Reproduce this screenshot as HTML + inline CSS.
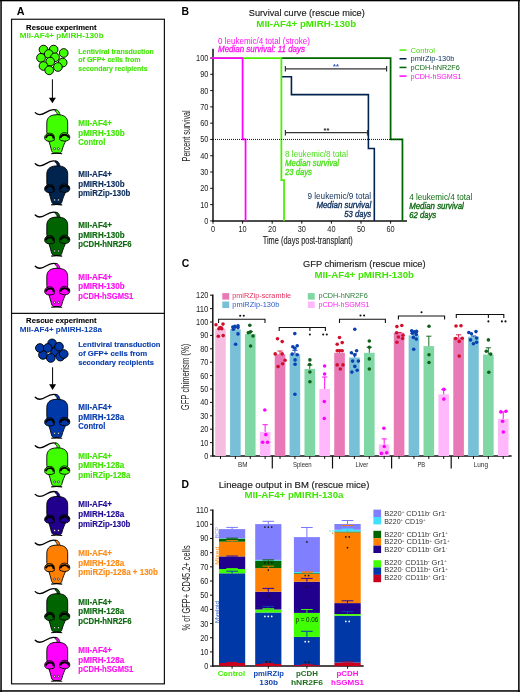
<!DOCTYPE html>
<html><head><meta charset="utf-8"><style>
html,body{margin:0;padding:0;background:#fff;width:520px;height:692px;overflow:hidden}
svg{display:block;font-family:"Liberation Sans", sans-serif;will-change:transform}
</style></head><body>
<svg width="520" height="692" viewBox="0 0 520 692">
<defs>
<g id="mouse">
 <path d="M3.2 7.6 C6 10.4 10 10 14 7.4 C18 4.8 22.5 4.2 25 5.6" fill="none" stroke="#000" stroke-width="1.3" stroke-linecap="round"/>
 <path d="M23.6 4.6 C26.4 5 27.8 7.2 28 10.2 L25.2 10.2 C25.2 8.2 24.6 6.6 23.2 6.2 Z" stroke="#000" stroke-width="0.7"/>
 <path d="M25.3 9.7 C31.5 9.7 35.7 11.8 35.7 18 L35.7 27 L34 35 C32.4 38.5 30.8 42 30 45.3 C29.6 47 28.8 47.9 27.8 48 L22 48 C21 47.9 20 47 19.5 45.3 C18.8 42 17.6 38.5 16.5 35 L14.8 27 L14.8 18 C14.8 11.8 19 9.7 25.3 9.7 Z" stroke="#000" stroke-width="0.9"/>
 <path d="M22.3 35.2 C22.4 33 22.2 30.6 21.2 29.4 C19.5 27.7 15 27.6 13.2 30.6 C12.3 32.2 12.6 34.2 13.6 35 C15 36.6 19 37 22.3 35.2 Z" stroke="#000" stroke-width="0.9"/>
 <path d="M27.6 34.6 C27.4 32.5 27.8 30 29.2 28.8 C31.5 27 35.6 27.4 37.3 30.4 C38.3 32.2 37.6 34.4 36.4 35.2 C34.6 36.4 30.5 36.6 27.6 34.6 Z" stroke="#000" stroke-width="0.9"/>
 <path d="M13.8 32.9 C14.5 30.6 17.3 29.6 19.6 30.1 C20.8 30.5 21.5 31.6 21.6 33.6" fill="none" stroke="#000" stroke-width="1.9"/>
 <path d="M28.3 33 C28.7 31 30.8 29.6 33 29.7 C35 29.9 36.4 31 36.9 32.8" fill="none" stroke="#000" stroke-width="1.9"/>
 <circle cx="22.6" cy="43.7" r="1.0" fill="#fff" stroke="#000" stroke-width="0.6"/>
 <circle cx="26.4" cy="43.7" r="1.0" fill="#fff" stroke="#000" stroke-width="0.6"/>
 <path d="M19.2 48.7 C22 48.2 27 48.2 30.2 48.7" fill="none" stroke="#000" stroke-width="1.1"/>
</g></defs>
<rect x="0" y="0" width="520" height="692" fill="#fff"/>

<rect x="0.3" y="0" width="1.5" height="692" fill="#000"/><rect x="0" y="0" width="520" height="1.3" fill="#000"/><rect x="518.1" y="0" width="1.5" height="692" fill="#000"/><rect x="0" y="690.2" width="520" height="1.5" fill="#000"/>
<text x="16.8" y="14.5" font-size="10.8" fill="#000" font-weight="bold">A</text>
<rect x="11.55" y="19.25" width="152.85" height="664.6" fill="none" stroke="#111" stroke-width="1.2"/>
<line x1="11.5" y1="313.4" x2="164.4" y2="313.4" stroke="#111" stroke-width="1.2"/>
<text x="26.1" y="29.6" font-size="7.9" fill="#000" font-weight="bold" textLength="70.5" lengthAdjust="spacingAndGlyphs" stroke="#000" stroke-width="0.12">Rescue experiment</text>
<text x="19.7" y="38.3" font-size="8.1" fill="#3fe600" font-weight="bold" textLength="84" lengthAdjust="spacingAndGlyphs">MII-AF4+ pMIRH-130b</text>
<circle cx="43.5" cy="49.6" r="4.35" fill="#40ff00" stroke="#000" stroke-width="0.95"/>
<circle cx="53.6" cy="49.6" r="4.35" fill="#40ff00" stroke="#000" stroke-width="0.95"/>
<circle cx="48.75" cy="54" r="4.35" fill="#40ff00" stroke="#000" stroke-width="0.95"/>
<circle cx="41" cy="57.8" r="4.35" fill="#40ff00" stroke="#000" stroke-width="0.95"/>
<circle cx="63.7" cy="53" r="4.35" fill="#40ff00" stroke="#000" stroke-width="0.95"/>
<circle cx="55" cy="57.3" r="4.35" fill="#40ff00" stroke="#000" stroke-width="0.95"/>
<circle cx="62.7" cy="62.6" r="4.35" fill="#40ff00" stroke="#000" stroke-width="0.95"/>
<circle cx="50.2" cy="61.6" r="4.35" fill="#40ff00" stroke="#000" stroke-width="0.95"/>
<circle cx="43.5" cy="66" r="4.35" fill="#40ff00" stroke="#000" stroke-width="0.95"/>
<circle cx="57.9" cy="67" r="4.35" fill="#40ff00" stroke="#000" stroke-width="0.95"/>
<circle cx="49.2" cy="70.3" r="4.35" fill="#40ff00" stroke="#000" stroke-width="0.95"/>
<text x="78.3" y="54.0" font-size="7.2" fill="#3fe600" font-weight="bold" textLength="75.6" lengthAdjust="spacingAndGlyphs" stroke="#3fe600" stroke-width="0.12">Lentiviral transduction</text>
<text x="78.3" y="62.4" font-size="7.2" fill="#3fe600" font-weight="bold" textLength="62.3" lengthAdjust="spacingAndGlyphs" stroke="#3fe600" stroke-width="0.12">of GFP+ cells from</text>
<text x="78.3" y="70.8" font-size="7.2" fill="#3fe600" font-weight="bold" textLength="69.2" lengthAdjust="spacingAndGlyphs" stroke="#3fe600" stroke-width="0.12">secondary recipients</text>
<line x1="52.4" y1="79.3" x2="52.4" y2="99.3" stroke="#000" stroke-width="1"/>
<path d="M48.9 97.7 L55.9 97.7 L52.4 103.3 Z" fill="#000"/>
<use href="#mouse" x="32" y="105.0" fill="#40ff00"/>
<text x="78.3" y="126.0" font-size="8.2" fill="#3fe600" font-weight="bold" textLength="33.7" lengthAdjust="spacingAndGlyphs" stroke="#3fe600" stroke-width="0.15">MII-AF4+</text>
<text x="78.3" y="135.5" font-size="8.2" fill="#3fe600" font-weight="bold" textLength="46.3" lengthAdjust="spacingAndGlyphs" stroke="#3fe600" stroke-width="0.15">pMIRH-130b</text>
<text x="78.3" y="145.0" font-size="8.2" fill="#3fe600" font-weight="bold" textLength="27" lengthAdjust="spacingAndGlyphs" stroke="#3fe600" stroke-width="0.15">Control</text>
<use href="#mouse" x="32" y="156.2" fill="#00244d"/>
<text x="78.3" y="177.2" font-size="8.2" fill="#0c2e5c" font-weight="bold" textLength="33.7" lengthAdjust="spacingAndGlyphs" stroke="#0c2e5c" stroke-width="0.15">MII-AF4+</text>
<text x="78.3" y="186.7" font-size="8.2" fill="#0c2e5c" font-weight="bold" textLength="46.3" lengthAdjust="spacingAndGlyphs" stroke="#0c2e5c" stroke-width="0.15">pMIRH-130b</text>
<text x="78.3" y="196.2" font-size="8.2" fill="#0c2e5c" font-weight="bold" textLength="52.1" lengthAdjust="spacingAndGlyphs" stroke="#0c2e5c" stroke-width="0.15">pmiRZip-130b</text>
<use href="#mouse" x="32" y="207.4" fill="#006400"/>
<text x="78.3" y="228.4" font-size="8.2" fill="#0e6a10" font-weight="bold" textLength="33.7" lengthAdjust="spacingAndGlyphs" stroke="#0e6a10" stroke-width="0.15">MII-AF4+</text>
<text x="78.3" y="237.9" font-size="8.2" fill="#0e6a10" font-weight="bold" textLength="46.3" lengthAdjust="spacingAndGlyphs" stroke="#0e6a10" stroke-width="0.15">pMIRH-130b</text>
<text x="78.3" y="247.4" font-size="8.2" fill="#0e6a10" font-weight="bold" textLength="53.3" lengthAdjust="spacingAndGlyphs" stroke="#0e6a10" stroke-width="0.15">pCDH-hNR2F6</text>
<use href="#mouse" x="32" y="258.6" fill="#ff00ff"/>
<text x="78.3" y="279.6" font-size="8.2" fill="#ff10f0" font-weight="bold" textLength="33.7" lengthAdjust="spacingAndGlyphs" stroke="#ff10f0" stroke-width="0.15">MII-AF4+</text>
<text x="78.3" y="289.1" font-size="8.2" fill="#ff10f0" font-weight="bold" textLength="46.3" lengthAdjust="spacingAndGlyphs" stroke="#ff10f0" stroke-width="0.15">pMIRH-130b</text>
<text x="78.3" y="298.6" font-size="8.2" fill="#ff10f0" font-weight="bold" textLength="55" lengthAdjust="spacingAndGlyphs" stroke="#ff10f0" stroke-width="0.15">pCDH-hSGMS1</text>
<text x="26.1" y="322.8" font-size="7.9" fill="#000" font-weight="bold" textLength="70.5" lengthAdjust="spacingAndGlyphs" stroke="#000" stroke-width="0.12">Rescue experiment</text>
<text x="19.8" y="331.7" font-size="8.1" fill="#0c40b0" font-weight="bold" textLength="82.2" lengthAdjust="spacingAndGlyphs">MII-AF4+ pMIRH-128a</text>
<circle cx="52.1" cy="343.4" r="4.35" fill="#0038a8" stroke="#000" stroke-width="0.95"/>
<circle cx="43" cy="354.9" r="4.35" fill="#0038a8" stroke="#000" stroke-width="0.95"/>
<circle cx="55" cy="352" r="4.35" fill="#0038a8" stroke="#000" stroke-width="0.95"/>
<circle cx="60.3" cy="356.6" r="4.35" fill="#0038a8" stroke="#000" stroke-width="0.95"/>
<circle cx="39.9" cy="348" r="4.35" fill="#0038a8" stroke="#000" stroke-width="0.95"/>
<circle cx="47.7" cy="348" r="4.35" fill="#0038a8" stroke="#000" stroke-width="0.95"/>
<circle cx="59" cy="346.7" r="4.35" fill="#0038a8" stroke="#000" stroke-width="0.95"/>
<circle cx="50.8" cy="357.9" r="4.35" fill="#0038a8" stroke="#000" stroke-width="0.95"/>
<circle cx="63.7" cy="354" r="4.35" fill="#0038a8" stroke="#000" stroke-width="0.95"/>
<text x="78.2" y="346.7" font-size="7.8" fill="#0c40b0" font-weight="bold" textLength="82.3" lengthAdjust="spacingAndGlyphs" stroke="#0c40b0" stroke-width="0.12">Lentiviral transduction</text>
<text x="78.2" y="355.7" font-size="7.8" fill="#0c40b0" font-weight="bold" textLength="69.1" lengthAdjust="spacingAndGlyphs" stroke="#0c40b0" stroke-width="0.12">of GFP+ cells from</text>
<text x="78.2" y="364.7" font-size="7.8" fill="#0c40b0" font-weight="bold" textLength="75.7" lengthAdjust="spacingAndGlyphs" stroke="#0c40b0" stroke-width="0.12">secondary recipients</text>
<line x1="52.6" y1="367.3" x2="52.6" y2="385.9" stroke="#000" stroke-width="1"/>
<path d="M49.1 384.29999999999995 L56.1 384.29999999999995 L52.6 389.9 Z" fill="#000"/>
<use href="#mouse" x="32" y="389.6" fill="#0038a8"/>
<text x="78.3" y="410.20000000000005" font-size="8.2" fill="#0c40b0" font-weight="bold" textLength="33.7" lengthAdjust="spacingAndGlyphs" stroke="#0c40b0" stroke-width="0.15">MII-AF4+</text>
<text x="78.3" y="419.80000000000007" font-size="8.2" fill="#0c40b0" font-weight="bold" textLength="45.8" lengthAdjust="spacingAndGlyphs" stroke="#0c40b0" stroke-width="0.15">pMIRH-128a</text>
<text x="78.3" y="429.40000000000003" font-size="8.2" fill="#0c40b0" font-weight="bold" textLength="27" lengthAdjust="spacingAndGlyphs" stroke="#0c40b0" stroke-width="0.15">Control</text>
<use href="#mouse" x="32" y="438.20000000000005" fill="#40ff00"/>
<text x="78.3" y="458.80000000000007" font-size="8.2" fill="#3fe600" font-weight="bold" textLength="33.7" lengthAdjust="spacingAndGlyphs" stroke="#3fe600" stroke-width="0.15">MII-AF4+</text>
<text x="78.3" y="468.4000000000001" font-size="8.2" fill="#3fe600" font-weight="bold" textLength="45.8" lengthAdjust="spacingAndGlyphs" stroke="#3fe600" stroke-width="0.15">pMIRH-128a</text>
<text x="78.3" y="478.00000000000006" font-size="8.2" fill="#3fe600" font-weight="bold" textLength="52.1" lengthAdjust="spacingAndGlyphs" stroke="#3fe600" stroke-width="0.15">pmiRZip-128a</text>
<use href="#mouse" x="32" y="486.8" fill="#20008c"/>
<text x="78.3" y="507.40000000000003" font-size="8.2" fill="#220c96" font-weight="bold" textLength="33.7" lengthAdjust="spacingAndGlyphs" stroke="#220c96" stroke-width="0.15">MII-AF4+</text>
<text x="78.3" y="517.0" font-size="8.2" fill="#220c96" font-weight="bold" textLength="45.8" lengthAdjust="spacingAndGlyphs" stroke="#220c96" stroke-width="0.15">pMIRH-128a</text>
<text x="78.3" y="526.6" font-size="8.2" fill="#220c96" font-weight="bold" textLength="52.1" lengthAdjust="spacingAndGlyphs" stroke="#220c96" stroke-width="0.15">pmiRZip-130b</text>
<use href="#mouse" x="32" y="535.4000000000001" fill="#ff8000"/>
<text x="78.3" y="556.0000000000001" font-size="8.2" fill="#ff8c18" font-weight="bold" textLength="33.7" lengthAdjust="spacingAndGlyphs" stroke="#ff8c18" stroke-width="0.15">MII-AF4+</text>
<text x="78.3" y="565.6000000000001" font-size="8.2" fill="#ff8c18" font-weight="bold" textLength="45.8" lengthAdjust="spacingAndGlyphs" stroke="#ff8c18" stroke-width="0.15">pMIRH-128a</text>
<text x="78.3" y="575.2000000000002" font-size="8.2" fill="#ff8c18" font-weight="bold" textLength="79.6" lengthAdjust="spacingAndGlyphs" stroke="#ff8c18" stroke-width="0.15">pmiRZip-128a + 130b</text>
<use href="#mouse" x="32" y="584.0" fill="#006400"/>
<text x="78.3" y="604.6" font-size="8.2" fill="#0e6a10" font-weight="bold" textLength="33.7" lengthAdjust="spacingAndGlyphs" stroke="#0e6a10" stroke-width="0.15">MII-AF4+</text>
<text x="78.3" y="614.2" font-size="8.2" fill="#0e6a10" font-weight="bold" textLength="45.8" lengthAdjust="spacingAndGlyphs" stroke="#0e6a10" stroke-width="0.15">pMIRH-128a</text>
<text x="78.3" y="623.8000000000001" font-size="8.2" fill="#0e6a10" font-weight="bold" textLength="53.3" lengthAdjust="spacingAndGlyphs" stroke="#0e6a10" stroke-width="0.15">pCDH-hNR2F6</text>
<use href="#mouse" x="32" y="632.6" fill="#ff00ff"/>
<text x="78.3" y="653.2" font-size="8.2" fill="#ff10f0" font-weight="bold" textLength="33.7" lengthAdjust="spacingAndGlyphs" stroke="#ff10f0" stroke-width="0.15">MII-AF4+</text>
<text x="78.3" y="662.8000000000001" font-size="8.2" fill="#ff10f0" font-weight="bold" textLength="45.8" lengthAdjust="spacingAndGlyphs" stroke="#ff10f0" stroke-width="0.15">pMIRH-128a</text>
<text x="78.3" y="672.4000000000001" font-size="8.2" fill="#ff10f0" font-weight="bold" textLength="55" lengthAdjust="spacingAndGlyphs" stroke="#ff10f0" stroke-width="0.15">pCDH-hSGMS1</text>
<text x="181.5" y="14.6" font-size="10.4" fill="#000" font-weight="bold">B</text>
<text x="248.75" y="15.6" font-size="9.8" fill="#1a1a1a" textLength="116" lengthAdjust="spacingAndGlyphs" stroke="#1a1a1a" stroke-width="0.15">Survival curve (rescue mice)</text>
<text x="256.25" y="27.1" font-size="8.8" fill="#3fe600" font-weight="bold" textLength="100" lengthAdjust="spacingAndGlyphs">MII-AF4+ pMIRH-130b</text>
<text x="218" y="44.1" font-size="8.8" fill="#ff10f0" textLength="92" lengthAdjust="spacingAndGlyphs">0 leukemic/4 total (stroke)</text>
<text x="218" y="51.7" font-size="8.6" fill="#ff10f0" font-style="italic" textLength="87" lengthAdjust="spacingAndGlyphs" stroke="#ff10f0" stroke-width="0.3">Median survival: 11 days</text>
<line x1="213" y1="48.7" x2="213" y2="221.5" stroke="#111" stroke-width="1.5"/>
<line x1="212.4" y1="220.9" x2="407.0" y2="220.9" stroke="#111" stroke-width="1.5"/>
<line x1="210.2" y1="220.9" x2="213" y2="220.9" stroke="#111" stroke-width="1"/>
<text x="208.4" y="223.9" font-size="8.8" fill="#222" text-anchor="end" textLength="4.1" lengthAdjust="spacingAndGlyphs">0</text>
<line x1="210.2" y1="204.61" x2="213" y2="204.61" stroke="#111" stroke-width="1"/>
<text x="208.4" y="207.61" font-size="8.8" fill="#222" text-anchor="end" textLength="8.2" lengthAdjust="spacingAndGlyphs">10</text>
<line x1="210.2" y1="188.32" x2="213" y2="188.32" stroke="#111" stroke-width="1"/>
<text x="208.4" y="191.32" font-size="8.8" fill="#222" text-anchor="end" textLength="8.2" lengthAdjust="spacingAndGlyphs">20</text>
<line x1="210.2" y1="172.03" x2="213" y2="172.03" stroke="#111" stroke-width="1"/>
<text x="208.4" y="175.03" font-size="8.8" fill="#222" text-anchor="end" textLength="8.2" lengthAdjust="spacingAndGlyphs">30</text>
<line x1="210.2" y1="155.74" x2="213" y2="155.74" stroke="#111" stroke-width="1"/>
<text x="208.4" y="158.74" font-size="8.8" fill="#222" text-anchor="end" textLength="8.2" lengthAdjust="spacingAndGlyphs">40</text>
<line x1="210.2" y1="139.45" x2="213" y2="139.45" stroke="#111" stroke-width="1"/>
<text x="208.4" y="142.45" font-size="8.8" fill="#222" text-anchor="end" textLength="8.2" lengthAdjust="spacingAndGlyphs">50</text>
<line x1="210.2" y1="123.16000000000001" x2="213" y2="123.16000000000001" stroke="#111" stroke-width="1"/>
<text x="208.4" y="126.16000000000001" font-size="8.8" fill="#222" text-anchor="end" textLength="8.2" lengthAdjust="spacingAndGlyphs">60</text>
<line x1="210.2" y1="106.87" x2="213" y2="106.87" stroke="#111" stroke-width="1"/>
<text x="208.4" y="109.87" font-size="8.8" fill="#222" text-anchor="end" textLength="8.2" lengthAdjust="spacingAndGlyphs">70</text>
<line x1="210.2" y1="90.58000000000001" x2="213" y2="90.58000000000001" stroke="#111" stroke-width="1"/>
<text x="208.4" y="93.58000000000001" font-size="8.8" fill="#222" text-anchor="end" textLength="8.2" lengthAdjust="spacingAndGlyphs">80</text>
<line x1="210.2" y1="74.28999999999999" x2="213" y2="74.28999999999999" stroke="#111" stroke-width="1"/>
<text x="208.4" y="77.28999999999999" font-size="8.8" fill="#222" text-anchor="end" textLength="8.2" lengthAdjust="spacingAndGlyphs">90</text>
<line x1="210.2" y1="58.0" x2="213" y2="58.0" stroke="#111" stroke-width="1"/>
<text x="208.4" y="61.0" font-size="8.8" fill="#222" text-anchor="end" textLength="12.299999999999999" lengthAdjust="spacingAndGlyphs">100</text>
<line x1="213.0" y1="220.9" x2="213.0" y2="223.70000000000002" stroke="#111" stroke-width="1"/>
<text x="213.0" y="232.4" font-size="8.8" fill="#222" text-anchor="middle" textLength="4.1" lengthAdjust="spacingAndGlyphs">0</text>
<line x1="242.6" y1="220.9" x2="242.6" y2="223.70000000000002" stroke="#111" stroke-width="1"/>
<text x="242.6" y="232.4" font-size="8.8" fill="#222" text-anchor="middle" textLength="8.2" lengthAdjust="spacingAndGlyphs">10</text>
<line x1="272.2" y1="220.9" x2="272.2" y2="223.70000000000002" stroke="#111" stroke-width="1"/>
<text x="272.2" y="232.4" font-size="8.8" fill="#222" text-anchor="middle" textLength="8.2" lengthAdjust="spacingAndGlyphs">20</text>
<line x1="301.8" y1="220.9" x2="301.8" y2="223.70000000000002" stroke="#111" stroke-width="1"/>
<text x="301.8" y="232.4" font-size="8.8" fill="#222" text-anchor="middle" textLength="8.2" lengthAdjust="spacingAndGlyphs">30</text>
<line x1="331.4" y1="220.9" x2="331.4" y2="223.70000000000002" stroke="#111" stroke-width="1"/>
<text x="331.4" y="232.4" font-size="8.8" fill="#222" text-anchor="middle" textLength="8.2" lengthAdjust="spacingAndGlyphs">40</text>
<line x1="361.0" y1="220.9" x2="361.0" y2="223.70000000000002" stroke="#111" stroke-width="1"/>
<text x="361.0" y="232.4" font-size="8.8" fill="#222" text-anchor="middle" textLength="8.2" lengthAdjust="spacingAndGlyphs">50</text>
<line x1="390.6" y1="220.9" x2="390.6" y2="223.70000000000002" stroke="#111" stroke-width="1"/>
<text x="390.6" y="232.4" font-size="8.8" fill="#222" text-anchor="middle" textLength="8.2" lengthAdjust="spacingAndGlyphs">60</text>
<text x="262.7" y="243.9" font-size="10" fill="#1a1a1a" textLength="90" lengthAdjust="spacingAndGlyphs" stroke="#1a1a1a" stroke-width="0.12">Time (days post-transplant)</text>
<text x="0" y="0" font-size="10.8" fill="#1a1a1a" text-anchor="middle" textLength="51" lengthAdjust="spacingAndGlyphs" transform="translate(189.6 135.9) rotate(-90)">Percent survival</text>
<path d="M281.38 76.81 L291.44 76.81 L291.44 94.65 L368.40 94.65 L368.40 148.57 L374.32 148.57 L374.32 220.90" fill="none" stroke="#00244d" stroke-width="1.6"/>
<path d="M281.38 58.00 L390.60 58.00 L390.60 139.45 L402.44 139.45 L402.44 220.90" fill="none" stroke="#006400" stroke-width="1.75"/>
<path d="M210.48 58.00 L281.38 58.00 L281.38 180.18 L284.04 180.18 L284.04 220.90" fill="none" stroke="#4cee00" stroke-width="1.75"/>
<path d="M210.48 58.00 L242.60 58.00 L242.60 139.45 L245.56 139.45 L245.56 220.90" fill="none" stroke="#ff00ff" stroke-width="1.75"/>
<line x1="213" y1="139.45" x2="402.44" y2="139.45" stroke="#111" stroke-width="1" stroke-dasharray="1 1"/>
<path d="M285.4 66.0 L285.4 71.6 M285.4 68.8 L386.6 68.8 M386.6 66.0 L386.6 71.6" stroke="#333" stroke-width="1.2"/>
<text x="336.0" y="69.2" font-size="7.4" fill="#2050c0" font-weight="bold" text-anchor="middle">**</text>
<path d="M285.4 129.89999999999998 L285.4 135.5 M285.4 132.7 L367.5 132.7 M367.5 129.89999999999998 L367.5 135.5" stroke="#333" stroke-width="1.2"/>
<text x="326.45" y="133.1" font-size="7.4" fill="#222" font-weight="bold" text-anchor="middle">**</text>
<line x1="399.5" y1="50.1" x2="406.5" y2="50.1" stroke="#4cee00" stroke-width="1.5"/>
<text x="410.5" y="52.7" font-size="7.6" fill="#44dd00" textLength="24.5" lengthAdjust="spacingAndGlyphs">Control</text>
<line x1="399.5" y1="58.77" x2="406.5" y2="58.77" stroke="#00244d" stroke-width="1.5"/>
<text x="410.5" y="61.370000000000005" font-size="7.6" fill="#0c2e5c" textLength="44" lengthAdjust="spacingAndGlyphs">pmirZip-130b</text>
<line x1="399.5" y1="67.44" x2="406.5" y2="67.44" stroke="#006400" stroke-width="1.5"/>
<text x="410.5" y="70.03999999999999" font-size="7.6" fill="#0e6a10" textLength="49.3" lengthAdjust="spacingAndGlyphs">pCDH-hNR2F6</text>
<line x1="399.5" y1="76.11" x2="406.5" y2="76.11" stroke="#ff00ff" stroke-width="1.5"/>
<text x="410.5" y="78.71" font-size="7.6" fill="#ff10f0" textLength="51" lengthAdjust="spacingAndGlyphs">pCDH-hSGMS1</text>
<text x="285.1" y="157.4" font-size="8.6" fill="#4ee01e" textLength="62.9" lengthAdjust="spacingAndGlyphs">8 leukemic/8 total</text>
<text x="285.1" y="166.1" font-size="8.6" fill="#4ee01e" font-style="italic" textLength="54" lengthAdjust="spacingAndGlyphs" stroke="#4ee01e" stroke-width="0.35">Median survival</text>
<text x="285.1" y="174.9" font-size="8.6" fill="#4ee01e" font-style="italic" textLength="26.8" lengthAdjust="spacingAndGlyphs" stroke="#4ee01e" stroke-width="0.35">23 days</text>
<text x="371.2" y="198.8" font-size="8.6" fill="#0c2e5c" text-anchor="end" textLength="63.8" lengthAdjust="spacingAndGlyphs">9 leukemic/9 total</text>
<text x="371.2" y="207.5" font-size="8.6" fill="#0c2e5c" text-anchor="end" font-style="italic" textLength="54.8" lengthAdjust="spacingAndGlyphs" stroke="#0c2e5c" stroke-width="0.35">Median survival</text>
<text x="371.2" y="216.7" font-size="8.6" fill="#0c2e5c" text-anchor="end" font-style="italic" textLength="26.9" lengthAdjust="spacingAndGlyphs" stroke="#0c2e5c" stroke-width="0.35">53 days</text>
<text x="409.2" y="199.8" font-size="8.6" fill="#0e6a10" textLength="63.1" lengthAdjust="spacingAndGlyphs">4 leukemic/4 total</text>
<text x="409.2" y="208.8" font-size="8.6" fill="#0e6a10" font-style="italic" textLength="54.6" lengthAdjust="spacingAndGlyphs" stroke="#0e6a10" stroke-width="0.35">Median survival</text>
<text x="409.2" y="217.7" font-size="8.6" fill="#0e6a10" font-style="italic" textLength="27" lengthAdjust="spacingAndGlyphs" stroke="#0e6a10" stroke-width="0.35">62 days</text>
<text x="181.8" y="267.4" font-size="10.4" fill="#000" font-weight="bold">C</text>
<text x="303" y="267.4" font-size="9.8" fill="#1a1a1a" textLength="122.6" lengthAdjust="spacingAndGlyphs" stroke="#1a1a1a" stroke-width="0.15">GFP chimerism (rescue mice)</text>
<text x="314.5" y="278.4" font-size="8.8" fill="#3fe600" font-weight="bold" textLength="99.5" lengthAdjust="spacingAndGlyphs">MII-AF4+ pMIRH-130b</text>
<line x1="212.8" y1="294.6" x2="212.8" y2="456.6" stroke="#111" stroke-width="1.5"/>
<line x1="212.20000000000002" y1="456" x2="511.6" y2="456" stroke="#111" stroke-width="1.5"/>
<line x1="210.0" y1="456.0" x2="212.8" y2="456.0" stroke="#111" stroke-width="1"/>
<text x="208.4" y="459.0" font-size="8.8" fill="#222" text-anchor="end" textLength="4.1" lengthAdjust="spacingAndGlyphs">0</text>
<line x1="210.0" y1="442.6" x2="212.8" y2="442.6" stroke="#111" stroke-width="1"/>
<text x="208.4" y="445.6" font-size="8.8" fill="#222" text-anchor="end" textLength="8.2" lengthAdjust="spacingAndGlyphs">10</text>
<line x1="210.0" y1="429.2" x2="212.8" y2="429.2" stroke="#111" stroke-width="1"/>
<text x="208.4" y="432.2" font-size="8.8" fill="#222" text-anchor="end" textLength="8.2" lengthAdjust="spacingAndGlyphs">20</text>
<line x1="210.0" y1="415.8" x2="212.8" y2="415.8" stroke="#111" stroke-width="1"/>
<text x="208.4" y="418.8" font-size="8.8" fill="#222" text-anchor="end" textLength="8.2" lengthAdjust="spacingAndGlyphs">30</text>
<line x1="210.0" y1="402.4" x2="212.8" y2="402.4" stroke="#111" stroke-width="1"/>
<text x="208.4" y="405.4" font-size="8.8" fill="#222" text-anchor="end" textLength="8.2" lengthAdjust="spacingAndGlyphs">40</text>
<line x1="210.0" y1="389.0" x2="212.8" y2="389.0" stroke="#111" stroke-width="1"/>
<text x="208.4" y="392.0" font-size="8.8" fill="#222" text-anchor="end" textLength="8.2" lengthAdjust="spacingAndGlyphs">50</text>
<line x1="210.0" y1="375.6" x2="212.8" y2="375.6" stroke="#111" stroke-width="1"/>
<text x="208.4" y="378.6" font-size="8.8" fill="#222" text-anchor="end" textLength="8.2" lengthAdjust="spacingAndGlyphs">60</text>
<line x1="210.0" y1="362.2" x2="212.8" y2="362.2" stroke="#111" stroke-width="1"/>
<text x="208.4" y="365.2" font-size="8.8" fill="#222" text-anchor="end" textLength="8.2" lengthAdjust="spacingAndGlyphs">70</text>
<line x1="210.0" y1="348.8" x2="212.8" y2="348.8" stroke="#111" stroke-width="1"/>
<text x="208.4" y="351.8" font-size="8.8" fill="#222" text-anchor="end" textLength="8.2" lengthAdjust="spacingAndGlyphs">80</text>
<line x1="210.0" y1="335.4" x2="212.8" y2="335.4" stroke="#111" stroke-width="1"/>
<text x="208.4" y="338.4" font-size="8.8" fill="#222" text-anchor="end" textLength="8.2" lengthAdjust="spacingAndGlyphs">90</text>
<line x1="210.0" y1="322.0" x2="212.8" y2="322.0" stroke="#111" stroke-width="1"/>
<text x="208.4" y="325.0" font-size="8.8" fill="#222" text-anchor="end" textLength="12.299999999999999" lengthAdjust="spacingAndGlyphs">100</text>
<line x1="210.0" y1="308.6" x2="212.8" y2="308.6" stroke="#111" stroke-width="1"/>
<text x="208.4" y="311.6" font-size="8.8" fill="#222" text-anchor="end" textLength="12.299999999999999" lengthAdjust="spacingAndGlyphs">110</text>
<line x1="210.0" y1="295.2" x2="212.8" y2="295.2" stroke="#111" stroke-width="1"/>
<text x="208.4" y="298.2" font-size="8.8" fill="#222" text-anchor="end" textLength="12.299999999999999" lengthAdjust="spacingAndGlyphs">120</text>
<text x="0" y="0" font-size="10.0" fill="#222" text-anchor="middle" textLength="66.5" lengthAdjust="spacingAndGlyphs" transform="translate(189.2 377) rotate(-90)">GFP  chimerism (%)</text>
<rect x="215.20" y="328.70" width="10.6" height="127.30" fill="#f7bde0"/>
<line x1="220.50" y1="456" x2="220.50" y2="459" stroke="#111" stroke-width="1"/>
<rect x="230.08" y="329.37" width="10.6" height="126.63" fill="#78c0d8"/>
<line x1="235.38" y1="456" x2="235.38" y2="459" stroke="#111" stroke-width="1"/>
<rect x="244.96" y="334.06" width="10.6" height="121.94" fill="#7fd8a4"/>
<line x1="250.26" y1="456" x2="250.26" y2="459" stroke="#111" stroke-width="1"/>
<rect x="259.84" y="431.88" width="10.6" height="24.12" fill="#ffb8fb"/>
<line x1="265.14" y1="456" x2="265.14" y2="459" stroke="#111" stroke-width="1"/>
<rect x="274.72" y="354.16" width="10.6" height="101.84" fill="#e878b6"/>
<line x1="280.02" y1="456" x2="280.02" y2="459" stroke="#111" stroke-width="1"/>
<rect x="289.60" y="354.16" width="10.6" height="101.84" fill="#78c0d8"/>
<line x1="294.90" y1="456" x2="294.90" y2="459" stroke="#111" stroke-width="1"/>
<rect x="304.48" y="368.90" width="10.6" height="87.10" fill="#7fd8a4"/>
<line x1="309.78" y1="456" x2="309.78" y2="459" stroke="#111" stroke-width="1"/>
<rect x="319.36" y="389.00" width="10.6" height="67.00" fill="#ffb8fb"/>
<line x1="324.66" y1="456" x2="324.66" y2="459" stroke="#111" stroke-width="1"/>
<rect x="334.24" y="352.82" width="10.6" height="103.18" fill="#e878b6"/>
<line x1="339.54" y1="456" x2="339.54" y2="459" stroke="#111" stroke-width="1"/>
<rect x="349.12" y="357.51" width="10.6" height="98.49" fill="#78c0d8"/>
<line x1="354.42" y1="456" x2="354.42" y2="459" stroke="#111" stroke-width="1"/>
<rect x="364.00" y="352.82" width="10.6" height="103.18" fill="#7fd8a4"/>
<line x1="369.30" y1="456" x2="369.30" y2="459" stroke="#111" stroke-width="1"/>
<rect x="378.88" y="444.48" width="10.6" height="11.52" fill="#ffb8fb"/>
<line x1="384.18" y1="456" x2="384.18" y2="459" stroke="#111" stroke-width="1"/>
<rect x="393.76" y="332.72" width="10.6" height="123.28" fill="#e878b6"/>
<line x1="399.06" y1="456" x2="399.06" y2="459" stroke="#111" stroke-width="1"/>
<rect x="408.64" y="335.40" width="10.6" height="120.60" fill="#78c0d8"/>
<line x1="413.94" y1="456" x2="413.94" y2="459" stroke="#111" stroke-width="1"/>
<rect x="423.52" y="346.12" width="10.6" height="109.88" fill="#7fd8a4"/>
<line x1="428.82" y1="456" x2="428.82" y2="459" stroke="#111" stroke-width="1"/>
<rect x="438.40" y="394.36" width="10.6" height="61.64" fill="#ffb8fb"/>
<line x1="443.70" y1="456" x2="443.70" y2="459" stroke="#111" stroke-width="1"/>
<rect x="453.28" y="337.41" width="10.6" height="118.59" fill="#e878b6"/>
<line x1="458.58" y1="456" x2="458.58" y2="459" stroke="#111" stroke-width="1"/>
<rect x="468.16" y="336.74" width="10.6" height="119.26" fill="#78c0d8"/>
<line x1="473.46" y1="456" x2="473.46" y2="459" stroke="#111" stroke-width="1"/>
<rect x="483.04" y="354.56" width="10.6" height="101.44" fill="#7fd8a4"/>
<line x1="488.34" y1="456" x2="488.34" y2="459" stroke="#111" stroke-width="1"/>
<rect x="497.92" y="418.88" width="10.6" height="37.12" fill="#ffb8fb"/>
<line x1="503.22" y1="456" x2="503.22" y2="459" stroke="#111" stroke-width="1"/>
<line x1="272.3" y1="456" x2="272.3" y2="468.5" stroke="#111" stroke-width="1.2"/>
<line x1="332.5" y1="456" x2="332.5" y2="468.5" stroke="#111" stroke-width="1.2"/>
<line x1="391.6" y1="456" x2="391.6" y2="468.5" stroke="#111" stroke-width="1.2"/>
<line x1="451.2" y1="456" x2="451.2" y2="468.5" stroke="#111" stroke-width="1.2"/>
<text x="242.79999999999998" y="466.8" font-size="7.6" fill="#2a2a2a" text-anchor="middle" textLength="9.5" lengthAdjust="spacingAndGlyphs">BM</text>
<text x="302.32" y="466.8" font-size="7.6" fill="#2a2a2a" text-anchor="middle" textLength="18.8" lengthAdjust="spacingAndGlyphs">Spleen</text>
<text x="361.84000000000003" y="466.8" font-size="7.6" fill="#2a2a2a" text-anchor="middle" textLength="12.8" lengthAdjust="spacingAndGlyphs">Liver</text>
<text x="421.36" y="466.8" font-size="7.6" fill="#2a2a2a" text-anchor="middle" textLength="7.7" lengthAdjust="spacingAndGlyphs">PB</text>
<text x="480.88" y="466.8" font-size="7.6" fill="#2a2a2a" text-anchor="middle" textLength="14.3" lengthAdjust="spacingAndGlyphs">Lung</text>
<rect x="222.3" y="293.1" width="6.9" height="6.5" fill="#e878b6"/>
<text x="232.3" y="298.40000000000003" font-size="7.4" fill="#e0305a" textLength="58.8" lengthAdjust="spacingAndGlyphs">pmiRZip-scramble</text>
<rect x="222.3" y="301.5" width="6.9" height="6.5" fill="#78c0d8"/>
<text x="232.3" y="306.8" font-size="7.4" fill="#2a5ad0" textLength="47" lengthAdjust="spacingAndGlyphs">pmiRZip-130b</text>
<rect x="307.8" y="293.1" width="6.9" height="6.5" fill="#7fd8a4"/>
<text x="318.6" y="298.40000000000003" font-size="7.4" fill="#2a7a3a" textLength="49.2" lengthAdjust="spacingAndGlyphs">pCDH-hNR2F6</text>
<rect x="307.8" y="301.5" width="6.9" height="6.5" fill="#ffb8fb"/>
<text x="318.6" y="306.8" font-size="7.4" fill="#ff20f0" textLength="50.8" lengthAdjust="spacingAndGlyphs">pCDH-hSGMS1</text>
<path d="M217.90 327 L223.10 327 M220.50 327 L220.50 328.70" stroke="#e0204a" stroke-width="1" fill="none"/>
<path d="M232.78 327.5 L237.98 327.5 M235.38 327.5 L235.38 329.37" stroke="#1048b8" stroke-width="1" fill="none"/>
<path d="M247.66 331.5 L252.86 331.5 M250.26 331.5 L250.26 334.06" stroke="#1a6a22" stroke-width="1" fill="none"/>
<path d="M262.54 424.7 L267.74 424.7 M265.14 424.7 L265.14 431.88" stroke="#ff10f0" stroke-width="1" fill="none"/>
<path d="M277.42 351 L282.62 351 M280.02 351 L280.02 354.16" stroke="#e0204a" stroke-width="1" fill="none"/>
<path d="M292.30 350.3 L297.50 350.3 M294.90 350.3 L294.90 354.16" stroke="#1048b8" stroke-width="1" fill="none"/>
<path d="M307.18 365.1 L312.38 365.1 M309.78 365.1 L309.78 368.90" stroke="#1a6a22" stroke-width="1" fill="none"/>
<path d="M322.06 377 L327.26 377 M324.66 377 L324.66 389.00" stroke="#ff10f0" stroke-width="1" fill="none"/>
<path d="M336.94 350 L342.14 350 M339.54 350 L339.54 352.82" stroke="#e0204a" stroke-width="1" fill="none"/>
<path d="M351.82 354 L357.02 354 M354.42 354 L354.42 357.51" stroke="#1048b8" stroke-width="1" fill="none"/>
<path d="M366.70 347.2 L371.90 347.2 M369.30 347.2 L369.30 352.82" stroke="#1a6a22" stroke-width="1" fill="none"/>
<path d="M381.58 438.9 L386.78 438.9 M384.18 438.9 L384.18 444.48" stroke="#ff10f0" stroke-width="1" fill="none"/>
<path d="M396.46 332.5 L401.66 332.5 M399.06 332.5 L399.06 332.72" stroke="#e0204a" stroke-width="1" fill="none"/>
<path d="M411.34 333 L416.54 333 M413.94 333 L413.94 335.40" stroke="#1048b8" stroke-width="1" fill="none"/>
<path d="M426.22 336.2 L431.42 336.2 M428.82 336.2 L428.82 346.12" stroke="#1a6a22" stroke-width="1" fill="none"/>
<path d="M441.10 389.4 L446.30 389.4 M443.70 389.4 L443.70 394.36" stroke="#ff10f0" stroke-width="1" fill="none"/>
<path d="M455.98 334.8 L461.18 334.8 M458.58 334.8 L458.58 337.41" stroke="#e0204a" stroke-width="1" fill="none"/>
<path d="M470.86 336 L476.06 336 M473.46 336 L473.46 336.74" stroke="#1048b8" stroke-width="1" fill="none"/>
<path d="M485.74 347.8 L490.94 347.8 M488.34 347.8 L488.34 354.56" stroke="#1a6a22" stroke-width="1" fill="none"/>
<path d="M500.62 411.9 L505.82 411.9 M503.22 411.9 L503.22 418.88" stroke="#ff10f0" stroke-width="1" fill="none"/>
<circle cx="216" cy="324.7" r="1.8" fill="#d0102c"/>
<circle cx="223" cy="324.1" r="1.8" fill="#d0102c"/>
<circle cx="218.9" cy="328.7" r="1.8" fill="#d0102c"/>
<circle cx="221.8" cy="328.7" r="1.8" fill="#d0102c"/>
<circle cx="220.3" cy="327.5" r="1.8" fill="#d0102c"/>
<circle cx="218.3" cy="336.2" r="1.8" fill="#d0102c"/>
<circle cx="223.2" cy="335.6" r="1.8" fill="#d0102c"/>
<circle cx="232.8" cy="327" r="1.8" fill="#0a40b0"/>
<circle cx="234.8" cy="326.4" r="1.8" fill="#0a40b0"/>
<circle cx="238" cy="325.8" r="1.8" fill="#0a40b0"/>
<circle cx="238" cy="327.6" r="1.8" fill="#0a40b0"/>
<circle cx="233.3" cy="329.3" r="1.8" fill="#0a40b0"/>
<circle cx="238" cy="333.9" r="1.8" fill="#0a40b0"/>
<circle cx="235.6" cy="344.3" r="1.8" fill="#0a40b0"/>
<circle cx="249.8" cy="325.3" r="1.8" fill="#10601a"/>
<circle cx="248.3" cy="332.8" r="1.8" fill="#10601a"/>
<circle cx="250.6" cy="331.8" r="1.8" fill="#10601a"/>
<circle cx="253" cy="336" r="1.8" fill="#10601a"/>
<circle cx="250.6" cy="346" r="1.8" fill="#10601a"/>
<circle cx="264.8" cy="410" r="1.8" fill="#ff00ff"/>
<circle cx="265.8" cy="434.6" r="1.8" fill="#ff00ff"/>
<circle cx="262.6" cy="442.2" r="1.8" fill="#ff00ff"/>
<circle cx="267.6" cy="442.2" r="1.8" fill="#ff00ff"/>
<circle cx="277.5" cy="338.8" r="1.8" fill="#d0102c"/>
<circle cx="282.2" cy="341.6" r="1.8" fill="#d0102c"/>
<circle cx="275.2" cy="353.9" r="1.8" fill="#d0102c"/>
<circle cx="282.2" cy="353.9" r="1.8" fill="#d0102c"/>
<circle cx="285.1" cy="360.2" r="1.8" fill="#d0102c"/>
<circle cx="282.6" cy="363.7" r="1.8" fill="#d0102c"/>
<circle cx="278.1" cy="366.6" r="1.8" fill="#d0102c"/>
<circle cx="294.8" cy="333.6" r="1.8" fill="#0a40b0"/>
<circle cx="292.8" cy="346.8" r="1.8" fill="#0a40b0"/>
<circle cx="297.2" cy="345.7" r="1.8" fill="#0a40b0"/>
<circle cx="294.9" cy="348.3" r="1.8" fill="#0a40b0"/>
<circle cx="292.2" cy="354.1" r="1.8" fill="#0a40b0"/>
<circle cx="297.2" cy="354.7" r="1.8" fill="#0a40b0"/>
<circle cx="295.1" cy="359.9" r="1.8" fill="#0a40b0"/>
<circle cx="295.1" cy="364.3" r="1.8" fill="#0a40b0"/>
<circle cx="294.9" cy="394.3" r="1.8" fill="#0a40b0"/>
<circle cx="309.9" cy="359.9" r="1.8" fill="#10601a"/>
<circle cx="309.6" cy="364.5" r="1.8" fill="#10601a"/>
<circle cx="309.9" cy="372" r="1.8" fill="#10601a"/>
<circle cx="309.9" cy="381.8" r="1.8" fill="#10601a"/>
<circle cx="324.6" cy="366" r="1.8" fill="#ff00ff"/>
<circle cx="324.6" cy="374" r="1.8" fill="#ff00ff"/>
<circle cx="324.3" cy="401.5" r="1.8" fill="#ff00ff"/>
<circle cx="324.3" cy="418.5" r="1.8" fill="#ff00ff"/>
<circle cx="339.5" cy="337.5" r="1.8" fill="#d0102c"/>
<circle cx="337.2" cy="344.2" r="1.8" fill="#d0102c"/>
<circle cx="342.2" cy="342.6" r="1.8" fill="#d0102c"/>
<circle cx="337.2" cy="350.7" r="1.8" fill="#d0102c"/>
<circle cx="339.5" cy="350.7" r="1.8" fill="#d0102c"/>
<circle cx="342.2" cy="350.7" r="1.8" fill="#d0102c"/>
<circle cx="337.2" cy="364.9" r="1.8" fill="#d0102c"/>
<circle cx="343" cy="364.9" r="1.8" fill="#d0102c"/>
<circle cx="340.3" cy="369" r="1.8" fill="#d0102c"/>
<circle cx="354.8" cy="329.3" r="1.8" fill="#0a40b0"/>
<circle cx="351.4" cy="352.8" r="1.8" fill="#0a40b0"/>
<circle cx="356.6" cy="350.7" r="1.8" fill="#0a40b0"/>
<circle cx="354.8" cy="354.9" r="1.8" fill="#0a40b0"/>
<circle cx="352.6" cy="361.1" r="1.8" fill="#0a40b0"/>
<circle cx="358.4" cy="361.1" r="1.8" fill="#0a40b0"/>
<circle cx="354.8" cy="366.4" r="1.8" fill="#0a40b0"/>
<circle cx="351.9" cy="372.1" r="1.8" fill="#0a40b0"/>
<circle cx="357.2" cy="370.3" r="1.8" fill="#0a40b0"/>
<circle cx="369.3" cy="341" r="1.8" fill="#10601a"/>
<circle cx="369.3" cy="347.2" r="1.8" fill="#10601a"/>
<circle cx="369.3" cy="358.9" r="1.8" fill="#10601a"/>
<circle cx="369.3" cy="369" r="1.8" fill="#10601a"/>
<circle cx="383.9" cy="428.2" r="1.8" fill="#ff00ff"/>
<circle cx="384.3" cy="446.5" r="1.8" fill="#ff00ff"/>
<circle cx="381.5" cy="453.4" r="1.8" fill="#ff00ff"/>
<circle cx="386.7" cy="452.7" r="1.8" fill="#ff00ff"/>
<circle cx="396.9" cy="326.6" r="1.8" fill="#d0102c"/>
<circle cx="401.8" cy="325.5" r="1.8" fill="#d0102c"/>
<circle cx="396.6" cy="332.7" r="1.8" fill="#d0102c"/>
<circle cx="398.4" cy="337" r="1.8" fill="#d0102c"/>
<circle cx="403" cy="335.3" r="1.8" fill="#d0102c"/>
<circle cx="402.6" cy="338.5" r="1.8" fill="#d0102c"/>
<circle cx="396.9" cy="342.2" r="1.8" fill="#d0102c"/>
<circle cx="411.7" cy="330.7" r="1.8" fill="#0a40b0"/>
<circle cx="414.5" cy="331.8" r="1.8" fill="#0a40b0"/>
<circle cx="416.6" cy="331.4" r="1.8" fill="#0a40b0"/>
<circle cx="412.2" cy="333.3" r="1.8" fill="#0a40b0"/>
<circle cx="416.3" cy="334.5" r="1.8" fill="#0a40b0"/>
<circle cx="413.4" cy="337.4" r="1.8" fill="#0a40b0"/>
<circle cx="416.3" cy="339.1" r="1.8" fill="#0a40b0"/>
<circle cx="413.7" cy="349.2" r="1.8" fill="#0a40b0"/>
<circle cx="429" cy="326.2" r="1.8" fill="#10601a"/>
<circle cx="429" cy="354.7" r="1.8" fill="#10601a"/>
<circle cx="429" cy="362.5" r="1.8" fill="#10601a"/>
<circle cx="443.8" cy="389.4" r="1.8" fill="#ff00ff"/>
<circle cx="443.8" cy="399.1" r="1.8" fill="#ff00ff"/>
<circle cx="456" cy="326" r="1.8" fill="#d0102c"/>
<circle cx="461" cy="325.8" r="1.8" fill="#d0102c"/>
<circle cx="455.7" cy="338.5" r="1.8" fill="#d0102c"/>
<circle cx="462.2" cy="338.3" r="1.8" fill="#d0102c"/>
<circle cx="459.2" cy="341.4" r="1.8" fill="#d0102c"/>
<circle cx="459.2" cy="356.1" r="1.8" fill="#d0102c"/>
<circle cx="468.8" cy="332.5" r="1.8" fill="#0a40b0"/>
<circle cx="471.4" cy="333.7" r="1.8" fill="#0a40b0"/>
<circle cx="476" cy="331.6" r="1.8" fill="#0a40b0"/>
<circle cx="470.5" cy="339.9" r="1.8" fill="#0a40b0"/>
<circle cx="476.6" cy="338" r="1.8" fill="#0a40b0"/>
<circle cx="476.6" cy="342.2" r="1.8" fill="#0a40b0"/>
<circle cx="473.4" cy="343.7" r="1.8" fill="#0a40b0"/>
<circle cx="488.4" cy="339.9" r="1.8" fill="#10601a"/>
<circle cx="486.3" cy="351.2" r="1.8" fill="#10601a"/>
<circle cx="490.7" cy="354.1" r="1.8" fill="#10601a"/>
<circle cx="488.8" cy="372.3" r="1.8" fill="#10601a"/>
<circle cx="500.9" cy="411.9" r="1.8" fill="#ff00ff"/>
<circle cx="506" cy="411.2" r="1.8" fill="#ff00ff"/>
<circle cx="502.6" cy="421.2" r="1.8" fill="#ff00ff"/>
<circle cx="503.3" cy="432" r="1.8" fill="#ff00ff"/>
<path d="M218.6 323 L218.6 319.2 L265 319.2 L265 323" fill="none" stroke="#111" stroke-width="1.1"/>
<circle cx="240.20" cy="315.7" r="1.05" fill="#111"/>
<circle cx="243.80" cy="315.7" r="1.05" fill="#111"/>
<path d="M279.2 331 L279.2 327.5 L325.4 327.5 L325.4 331" fill="none" stroke="#111" stroke-width="1.1"/>
<line x1="309.9" y1="327.5" x2="309.9" y2="331" stroke="#111" stroke-width="1.1"/>
<circle cx="309.90" cy="334.5" r="1.05" fill="#111"/>
<circle cx="323.20" cy="334.5" r="1.05" fill="#111"/>
<circle cx="326.80" cy="334.5" r="1.05" fill="#111"/>
<path d="M339.5 323 L339.5 319.2 L385.4 319.2 L385.4 323" fill="none" stroke="#111" stroke-width="1.1"/>
<circle cx="360.50" cy="315.5" r="1.05" fill="#111"/>
<circle cx="364.10" cy="315.5" r="1.05" fill="#111"/>
<path d="M398.4 319.5 L398.4 316 L444.6 316 L444.6 319.5" fill="none" stroke="#111" stroke-width="1.1"/>
<circle cx="421.50" cy="312.2" r="1.05" fill="#111"/>
<path d="M456.3 318 L456.3 314.5 L503.8 314.5 L503.8 318" fill="none" stroke="#111" stroke-width="1.1"/>
<line x1="488.4" y1="314.5" x2="488.4" y2="318" stroke="#111" stroke-width="1.1"/>
<circle cx="488.40" cy="321.4" r="1.05" fill="#111"/>
<circle cx="501.90" cy="321.4" r="1.05" fill="#111"/>
<circle cx="505.50" cy="321.4" r="1.05" fill="#111"/>
<text x="181.6" y="488.4" font-size="10.4" fill="#000" font-weight="bold">D</text>
<text x="218.75" y="488.1" font-size="9.8" fill="#1a1a1a" textLength="150.6" lengthAdjust="spacingAndGlyphs" stroke="#1a1a1a" stroke-width="0.15">Lineage output in BM (rescue mice)</text>
<text x="244.5" y="498.2" font-size="8.8" fill="#3fe600" font-weight="bold" textLength="99" lengthAdjust="spacingAndGlyphs">MII-AF4+ pMIRH-130a</text>
<line x1="212.8" y1="509.52" x2="212.8" y2="666.7" stroke="#111" stroke-width="1.5"/>
<line x1="212.20000000000002" y1="666.1" x2="363.7" y2="666.1" stroke="#111" stroke-width="1.5"/>
<line x1="210.0" y1="666.1" x2="212.8" y2="666.1" stroke="#111" stroke-width="1"/>
<text x="208.4" y="669.1" font-size="8.8" fill="#222" text-anchor="end" textLength="4.1" lengthAdjust="spacingAndGlyphs">0</text>
<line x1="210.0" y1="651.9200000000001" x2="212.8" y2="651.9200000000001" stroke="#111" stroke-width="1"/>
<text x="208.4" y="654.9200000000001" font-size="8.8" fill="#222" text-anchor="end" textLength="8.2" lengthAdjust="spacingAndGlyphs">10</text>
<line x1="210.0" y1="637.74" x2="212.8" y2="637.74" stroke="#111" stroke-width="1"/>
<text x="208.4" y="640.74" font-size="8.8" fill="#222" text-anchor="end" textLength="8.2" lengthAdjust="spacingAndGlyphs">20</text>
<line x1="210.0" y1="623.5600000000001" x2="212.8" y2="623.5600000000001" stroke="#111" stroke-width="1"/>
<text x="208.4" y="626.5600000000001" font-size="8.8" fill="#222" text-anchor="end" textLength="8.2" lengthAdjust="spacingAndGlyphs">30</text>
<line x1="210.0" y1="609.38" x2="212.8" y2="609.38" stroke="#111" stroke-width="1"/>
<text x="208.4" y="612.38" font-size="8.8" fill="#222" text-anchor="end" textLength="8.2" lengthAdjust="spacingAndGlyphs">40</text>
<line x1="210.0" y1="595.2" x2="212.8" y2="595.2" stroke="#111" stroke-width="1"/>
<text x="208.4" y="598.2" font-size="8.8" fill="#222" text-anchor="end" textLength="8.2" lengthAdjust="spacingAndGlyphs">50</text>
<line x1="210.0" y1="581.02" x2="212.8" y2="581.02" stroke="#111" stroke-width="1"/>
<text x="208.4" y="584.02" font-size="8.8" fill="#222" text-anchor="end" textLength="8.2" lengthAdjust="spacingAndGlyphs">60</text>
<line x1="210.0" y1="566.84" x2="212.8" y2="566.84" stroke="#111" stroke-width="1"/>
<text x="208.4" y="569.84" font-size="8.8" fill="#222" text-anchor="end" textLength="8.2" lengthAdjust="spacingAndGlyphs">70</text>
<line x1="210.0" y1="552.6600000000001" x2="212.8" y2="552.6600000000001" stroke="#111" stroke-width="1"/>
<text x="208.4" y="555.6600000000001" font-size="8.8" fill="#222" text-anchor="end" textLength="8.2" lengthAdjust="spacingAndGlyphs">80</text>
<line x1="210.0" y1="538.48" x2="212.8" y2="538.48" stroke="#111" stroke-width="1"/>
<text x="208.4" y="541.48" font-size="8.8" fill="#222" text-anchor="end" textLength="8.2" lengthAdjust="spacingAndGlyphs">90</text>
<line x1="210.0" y1="524.3000000000001" x2="212.8" y2="524.3000000000001" stroke="#111" stroke-width="1"/>
<text x="208.4" y="527.3000000000001" font-size="8.8" fill="#222" text-anchor="end" textLength="12.299999999999999" lengthAdjust="spacingAndGlyphs">100</text>
<line x1="210.0" y1="510.12" x2="212.8" y2="510.12" stroke="#111" stroke-width="1"/>
<text x="208.4" y="513.12" font-size="8.8" fill="#222" text-anchor="end" textLength="12.299999999999999" lengthAdjust="spacingAndGlyphs">110</text>
<text x="0" y="0" font-size="10.0" fill="#222" text-anchor="middle" textLength="85" lengthAdjust="spacingAndGlyphs" transform="translate(190 587.9) rotate(-90)">% of GFP+ CD45.2+ cells</text>
<rect x="219.0" y="663.0" width="26.20" height="3.10" fill="#c8001e"/>
<rect x="219.0" y="573.3" width="26.20" height="89.70" fill="#0038a8"/>
<rect x="219.0" y="569.0" width="26.20" height="4.30" fill="#40ff00"/>
<rect x="219.0" y="556.4" width="26.20" height="12.60" fill="#20008c"/>
<rect x="219.0" y="541.7" width="26.20" height="14.70" fill="#ff8000"/>
<rect x="219.0" y="538.6" width="26.20" height="3.10" fill="#006400"/>
<rect x="219.0" y="538.3" width="26.20" height="0.30" fill="#40e0ff"/>
<rect x="219.0" y="529.1" width="26.20" height="9.20" fill="#8080ff"/>
<rect x="255.2" y="664.0" width="26.20" height="2.10" fill="#c8001e"/>
<rect x="255.2" y="612.5" width="26.20" height="51.50" fill="#0038a8"/>
<rect x="255.2" y="609.5" width="26.20" height="3.00" fill="#40ff00"/>
<rect x="255.2" y="591.7" width="26.20" height="17.80" fill="#20008c"/>
<rect x="255.2" y="568.1" width="26.20" height="23.60" fill="#ff8000"/>
<rect x="255.2" y="560.6" width="26.20" height="7.50" fill="#006400"/>
<rect x="255.2" y="559.9" width="26.20" height="0.70" fill="#40e0ff"/>
<rect x="255.2" y="524.1" width="26.20" height="35.80" fill="#8080ff"/>
<rect x="293.9" y="665.1" width="26.00" height="1.00" fill="#c8001e"/>
<rect x="293.9" y="636.9" width="26.00" height="28.20" fill="#0038a8"/>
<rect x="293.9" y="612.9" width="26.00" height="24.00" fill="#40ff00"/>
<rect x="293.9" y="581.7" width="26.00" height="31.20" fill="#20008c"/>
<rect x="293.9" y="573.8" width="26.00" height="7.90" fill="#ff8000"/>
<rect x="293.9" y="573.1" width="26.00" height="0.70" fill="#006400"/>
<rect x="293.9" y="572.0" width="26.00" height="1.10" fill="#40e0ff"/>
<rect x="293.9" y="537.1" width="26.00" height="34.90" fill="#8080ff"/>
<rect x="334.4" y="662.6" width="26.30" height="3.50" fill="#c8001e"/>
<rect x="334.4" y="615.7" width="26.30" height="46.90" fill="#0038a8"/>
<rect x="334.4" y="614.0" width="26.30" height="1.70" fill="#40ff00"/>
<rect x="334.4" y="603.1" width="26.30" height="10.90" fill="#20008c"/>
<rect x="334.4" y="532.4" width="26.30" height="70.70" fill="#ff8000"/>
<rect x="334.4" y="531.5" width="26.30" height="0.90" fill="#006400"/>
<rect x="334.4" y="529.8" width="26.30" height="1.70" fill="#40e0ff"/>
<rect x="334.4" y="524.0" width="26.30" height="5.80" fill="#8080ff"/>
<path d="M226.30 527.4 L237.90 527.4 M232.10 527.4 L232.10 529.1" stroke="#7878ff" stroke-width="1" fill="none"/>
<path d="M226.30 538.2 L237.90 538.2 M232.10 538.2 L232.10 538.6" stroke="#005a00" stroke-width="1" fill="none"/>
<path d="M226.30 540.6 L237.90 540.6 M232.10 540.6 L232.10 541.7" stroke="#ff7800" stroke-width="1" fill="none"/>
<path d="M226.30 556.0 L237.90 556.0 M232.10 556.0 L232.10 556.4" stroke="#2a08a0" stroke-width="1" fill="none"/>
<path d="M226.30 568.6 L237.90 568.6 M232.10 568.6 L232.10 569.0" stroke="#3cf000" stroke-width="1" fill="none"/>
<path d="M226.30 571.2 L237.90 571.2 M232.10 571.2 L232.10 573.3" stroke="#0840b8" stroke-width="1" fill="none"/>
<path d="M226.30 662.4 L237.90 662.4 M232.10 662.4 L232.10 663.0" stroke="#d00020" stroke-width="1" fill="none"/>
<path d="M262.50 521.3 L274.10 521.3 M268.30 521.3 L268.30 524.1" stroke="#7878ff" stroke-width="1" fill="none"/>
<path d="M262.50 559.9 L274.10 559.9 M268.30 559.9 L268.30 560.6" stroke="#005a00" stroke-width="1" fill="none"/>
<path d="M262.50 566.2 L274.10 566.2 M268.30 566.2 L268.30 568.1" stroke="#ff7800" stroke-width="1" fill="none"/>
<path d="M262.50 588.4 L274.10 588.4 M268.30 588.4 L268.30 591.7" stroke="#2a08a0" stroke-width="1" fill="none"/>
<path d="M262.50 606.4 L274.10 606.4 M268.30 606.4 L268.30 609.5" stroke="#0840b8" stroke-width="1" fill="none"/>
<path d="M262.50 663.4 L274.10 663.4 M268.30 663.4 L268.30 664.0" stroke="#d00020" stroke-width="1" fill="none"/>
<path d="M301.10 527.5 L312.70 527.5 M306.90 527.5 L306.90 537.1" stroke="#7878ff" stroke-width="1" fill="none"/>
<path d="M301.10 572.2 L312.70 572.2 M306.90 572.2 L306.90 573.8" stroke="#ff7800" stroke-width="1" fill="none"/>
<path d="M301.10 578.4 L312.70 578.4 M306.90 578.4 L306.90 581.7" stroke="#2a08a0" stroke-width="1" fill="none"/>
<path d="M301.10 609.5 L312.70 609.5 M306.90 609.5 L306.90 612.9" stroke="#3cf000" stroke-width="1" fill="none"/>
<path d="M301.10 631.3 L312.70 631.3 M306.90 631.3 L306.90 636.9" stroke="#0840b8" stroke-width="1" fill="none"/>
<path d="M301.10 664.4 L312.70 664.4 M306.90 664.4 L306.90 665.1" stroke="#d00020" stroke-width="1" fill="none"/>
<path d="M341.70 520.5 L353.30 520.5 M347.50 520.5 L347.50 524.0" stroke="#7878ff" stroke-width="1" fill="none"/>
<path d="M341.70 525.4 L353.30 525.4 M347.50 525.4 L347.50 532.4" stroke="#ff7800" stroke-width="1" fill="none"/>
<path d="M341.70 600.8 L353.30 600.8 M347.50 600.8 L347.50 603.1" stroke="#2a08a0" stroke-width="1" fill="none"/>
<path d="M341.70 611.4 L353.30 611.4 M347.50 611.4 L347.50 614.0" stroke="#0840b8" stroke-width="1" fill="none"/>
<path d="M341.70 662.0 L353.30 662.0 M347.50 662.0 L347.50 662.6" stroke="#d00020" stroke-width="1" fill="none"/>
<rect x="262.50" y="608.2" width="11.6" height="1.4" fill="#40ff00"/>
<rect x="341.70" y="528.6" width="11.6" height="1.3" fill="#40e0ff"/>
<rect x="301.10" y="571.6" width="11.6" height="1.2" fill="#ff8000"/>
<line x1="232.10" y1="666.1" x2="232.10" y2="668.7" stroke="#111" stroke-width="1"/>
<line x1="268.30" y1="666.1" x2="268.30" y2="668.7" stroke="#111" stroke-width="1"/>
<line x1="306.90" y1="666.1" x2="306.90" y2="668.7" stroke="#111" stroke-width="1"/>
<line x1="347.55" y1="666.1" x2="347.55" y2="668.7" stroke="#111" stroke-width="1"/>
<circle cx="264.90" cy="527.1" r="0.85" fill="#111"/>
<circle cx="268.30" cy="527.1" r="0.85" fill="#111"/>
<circle cx="271.70" cy="527.1" r="0.85" fill="#111"/>
<circle cx="264.90" cy="562.7" r="0.85" fill="#111"/>
<circle cx="268.30" cy="562.7" r="0.85" fill="#111"/>
<circle cx="271.70" cy="562.7" r="0.85" fill="#111"/>
<circle cx="268.30" cy="570.1" r="0.85" fill="#111"/>
<circle cx="268.30" cy="596.0" r="0.85" fill="#111"/>
<circle cx="264.90" cy="616.4" r="0.85" fill="#fff"/>
<circle cx="268.30" cy="616.4" r="0.85" fill="#fff"/>
<circle cx="271.70" cy="616.4" r="0.85" fill="#fff"/>
<circle cx="266.60" cy="661.8" r="0.85" fill="#111"/>
<circle cx="270.00" cy="661.8" r="0.85" fill="#111"/>
<circle cx="306.90" cy="541.9" r="0.85" fill="#111"/>
<circle cx="305.20" cy="575.6" r="0.85" fill="#111"/>
<circle cx="308.60" cy="575.6" r="0.85" fill="#111"/>
<circle cx="306.90" cy="586.9" r="0.85" fill="#111"/>
<circle cx="305.20" cy="641.7" r="0.85" fill="#fff"/>
<circle cx="308.60" cy="641.7" r="0.85" fill="#fff"/>
<circle cx="305.20" cy="662.1" r="0.85" fill="#111"/>
<circle cx="308.60" cy="662.1" r="0.85" fill="#111"/>
<circle cx="345.80" cy="536.9" r="0.85" fill="#111"/>
<circle cx="349.20" cy="536.9" r="0.85" fill="#111"/>
<circle cx="347.50" cy="547.7" r="0.85" fill="#111"/>
<circle cx="345.80" cy="621.4" r="0.85" fill="#fff"/>
<circle cx="349.20" cy="621.4" r="0.85" fill="#fff"/>
<circle cx="330.00" cy="530.9" r="0.7" fill="#40d0ff"/>
<circle cx="333.00" cy="530.9" r="0.7" fill="#40d0ff"/>
<circle cx="332.60" cy="533.3" r="0.7" fill="#ff8000"/>
<text x="306.9" y="621.9" font-size="6.4" fill="#111" text-anchor="middle" textLength="23" lengthAdjust="spacingAndGlyphs">p = 0.06</text>
<text x="0" y="0" font-size="5.2" fill="#8888ff" text-anchor="middle" textLength="11.6" lengthAdjust="spacingAndGlyphs" transform="translate(218.8 532.8) rotate(-90)">BCP</text>
<text x="0" y="0" font-size="5.2" fill="#ff8000" text-anchor="middle" textLength="17.8" lengthAdjust="spacingAndGlyphs" transform="translate(218.6 555.8) rotate(-90)">Mixed</text>
<text x="0" y="0" font-size="5.6" fill="#2456cc" text-anchor="middle" textLength="22" lengthAdjust="spacingAndGlyphs" transform="translate(219.4 612) rotate(-90)">Myeloid</text>
<text x="231.4" y="676.3" font-size="7.6" fill="#44ee00" font-weight="bold" text-anchor="middle" textLength="27.4" lengthAdjust="spacingAndGlyphs">Control</text>
<text x="268.7" y="676.3" font-size="7.6" fill="#1446b4" font-weight="bold" text-anchor="middle" textLength="30.5" lengthAdjust="spacingAndGlyphs">pmiRZip</text>
<text x="268.7" y="685.2" font-size="7.6" fill="#1446b4" font-weight="bold" text-anchor="middle" textLength="18.8" lengthAdjust="spacingAndGlyphs">130b</text>
<text x="306.9" y="676.3" font-size="7.6" fill="#1e6e1e" font-weight="bold" text-anchor="middle" textLength="22" lengthAdjust="spacingAndGlyphs">pCDH</text>
<text x="306.9" y="685.2" font-size="7.6" fill="#1e6e1e" font-weight="bold" text-anchor="middle" textLength="32" lengthAdjust="spacingAndGlyphs">hNR2F6</text>
<text x="347.5" y="676.3" font-size="7.6" fill="#ff10f0" font-weight="bold" text-anchor="middle" textLength="22" lengthAdjust="spacingAndGlyphs">pCDH</text>
<text x="347.5" y="685.2" font-size="7.6" fill="#ff10f0" font-weight="bold" text-anchor="middle" textLength="33" lengthAdjust="spacingAndGlyphs">hSGMS1</text>
<rect x="373.4" y="509.6" width="7.7" height="7.4" fill="#8080ff"/>
<text x="384.2" y="516.1" font-size="7.0" fill="#333" textLength="62.4" lengthAdjust="spacingAndGlyphs">B220<tspan font-size="4.2" dy="-2.8">+</tspan><tspan dy="2.8"> CD11b</tspan><tspan font-size="4.2" dy="-2.8">-</tspan><tspan dy="2.8"> Gr1</tspan><tspan font-size="4.2" dy="-2.8">-</tspan></text>
<rect x="373.4" y="517.0" width="7.7" height="7.4" fill="#40e0ff"/>
<text x="384.2" y="523.5" font-size="7.0" fill="#333" textLength="41.2" lengthAdjust="spacingAndGlyphs">B220<tspan font-size="4.2" dy="-2.8">+</tspan><tspan dy="2.8"> CD19</tspan><tspan font-size="4.2" dy="-2.8">+</tspan></text>
<rect x="373.4" y="530.8" width="7.7" height="7.4" fill="#006400"/>
<text x="384.2" y="537.0" font-size="7.0" fill="#333" textLength="63.8" lengthAdjust="spacingAndGlyphs">B220<tspan font-size="4.2" dy="-2.8">+</tspan><tspan dy="2.8"> CD11b</tspan><tspan font-size="4.2" dy="-2.8">-</tspan><tspan dy="2.8"> Gr1</tspan><tspan font-size="4.2" dy="-2.8">+</tspan></text>
<rect x="373.4" y="538.2" width="7.7" height="7.4" fill="#ff8000"/>
<text x="384.2" y="544.3" font-size="7.0" fill="#333" textLength="65.4" lengthAdjust="spacingAndGlyphs">B220<tspan font-size="4.2" dy="-2.8">+</tspan><tspan dy="2.8"> CD11b</tspan><tspan font-size="4.2" dy="-2.8">+</tspan><tspan dy="2.8"> Gr1</tspan><tspan font-size="4.2" dy="-2.8">+</tspan></text>
<rect x="373.4" y="545.6" width="7.7" height="7.4" fill="#20008c"/>
<text x="384.2" y="551.6" font-size="7.0" fill="#333" textLength="63.1" lengthAdjust="spacingAndGlyphs">B220<tspan font-size="4.2" dy="-2.8">+</tspan><tspan dy="2.8"> CD11b</tspan><tspan font-size="4.2" dy="-2.8">-</tspan><tspan dy="2.8"> Gr1</tspan><tspan font-size="4.2" dy="-2.8">-</tspan></text>
<rect x="373.4" y="560.2" width="7.7" height="7.4" fill="#40ff00"/>
<text x="384.2" y="565.0" font-size="7.0" fill="#333" textLength="62.5" lengthAdjust="spacingAndGlyphs">B220<tspan font-size="4.2" dy="-2.8">-</tspan><tspan dy="2.8"> CD11b</tspan><tspan font-size="4.2" dy="-2.8">-</tspan><tspan dy="2.8"> Gr1</tspan><tspan font-size="4.2" dy="-2.8">+</tspan></text>
<rect x="373.4" y="567.5" width="7.7" height="7.4" fill="#0038a8"/>
<text x="384.2" y="572.3" font-size="7.0" fill="#333" textLength="63.8" lengthAdjust="spacingAndGlyphs">B220<tspan font-size="4.2" dy="-2.8">-</tspan><tspan dy="2.8"> CD11b</tspan><tspan font-size="4.2" dy="-2.8">+</tspan><tspan dy="2.8"> Gr1</tspan><tspan font-size="4.2" dy="-2.8">+</tspan></text>
<rect x="373.4" y="574.8" width="7.7" height="7.4" fill="#c8001e"/>
<text x="384.2" y="579.6" font-size="7.0" fill="#333" textLength="62.5" lengthAdjust="spacingAndGlyphs">B220<tspan font-size="4.2" dy="-2.8">-</tspan><tspan dy="2.8"> CD11b</tspan><tspan font-size="4.2" dy="-2.8">+</tspan><tspan dy="2.8"> Gr1</tspan><tspan font-size="4.2" dy="-2.8">-</tspan></text>
</svg></body></html>
